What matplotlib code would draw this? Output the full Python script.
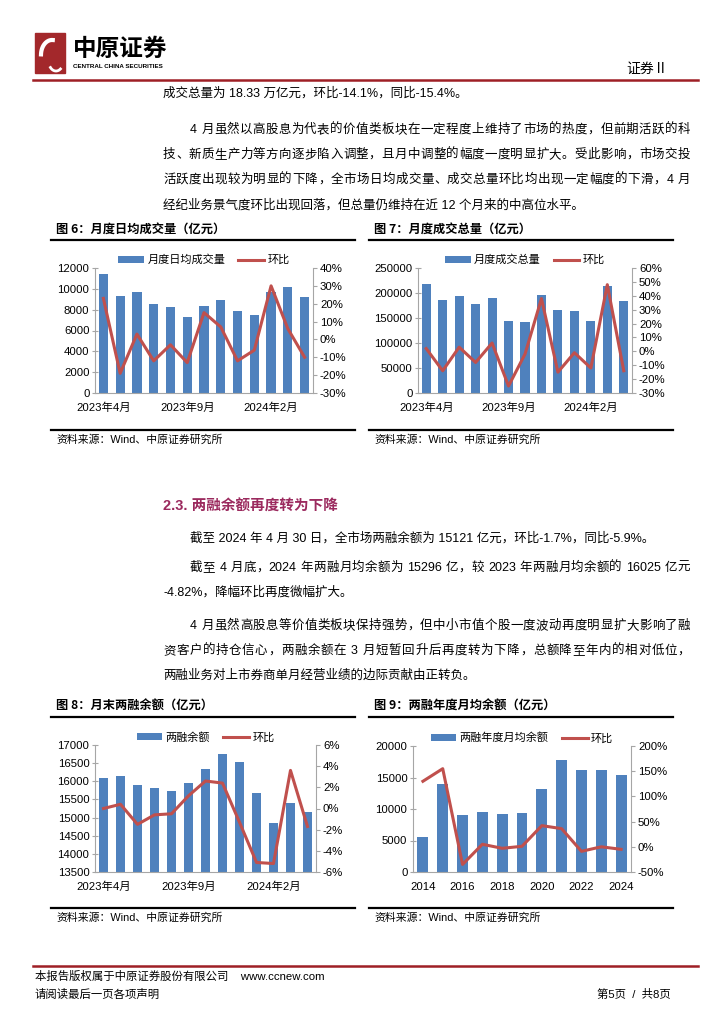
import re
import matplotlib
matplotlib.use('Agg')
import matplotlib.pyplot as plt
from matplotlib.patches import Rectangle, Patch
from matplotlib.lines import Line2D
import numpy as np

plt.rcParams['font.family'] = ['Liberation Sans', 'Noto Sans CJK SC', 'DejaVu Sans']

W, H = 724, 1024

# 图6 月度日均成交量
months = ['2023年4月', '2023年5月', '2023年6月', '2023年7月', '2023年8月', '2023年9月', '2023年10月',
          '2023年11月', '2023年12月', '2024年1月', '2024年2月', '2024年3月', '2024年4月']
daily_vol = [11450, 9350, 9700, 8550, 8300, 7250, 8350, 8900, 7900, 7450, 9650, 10200, 9250]
daily_mom = [23, -19, 3, -12, -3, -13, 15, 7, -12, -6, 30, 6, -10]

# 图7 月度成交总量
total_vol = [218000, 187000, 194000, 179000, 191000, 145000, 142000, 196000, 166000, 164000, 145000, 215000, 184000]
total_mom = [2, -14, 3, -8, 6, -25, -2, 38, -15, -1, -12, 48, -14]

# 图8 月末两融余额
margin_bal = [16100, 16150, 15900, 15820, 15740, 15940, 16350, 16750, 16530, 15680, 14860, 15400, 15140]
margin_mom = [0.0, 0.4, -1.5, -0.6, -0.5, 1.2, 2.6, 2.4, -1.3, -5.1, -5.2, 3.6, -1.7]

# 图9 两融年度月均余额
years = ['2014', '2015', '2016', '2017', '2018', '2019', '2020', '2021', '2022', '2023', '2024']
year_bal = [5500, 13900, 9050, 9550, 9200, 9300, 13150, 17800, 16150, 16150, 15400]
year_mom = [130, 155, -35, 5, -3, 1, 42, 36, -9, 0, -5]

BLUE = '#4F81BD'
RED = '#C0504D'
GRAY = '#A6A6A6'
DARKRED = '#9E1F25'
BODY = 9.0

fig = plt.figure(figsize=(W / 100, H / 100), dpi=100)
renderer = fig.canvas.get_renderer()


def fx(x):
    return x / W


def fy(y):
    return 1 - y / H


def txt(x, y, s, size=BODY, **kw):
    kw.setdefault('va', 'center')
    kw.setdefault('ha', 'left')
    return fig.text(fx(x), fy(y), s, fontsize=size, **kw)


def justify(x0, x1, y, s, size=BODY):
    # 两端对齐：逐字放置，把多余的空白平均分到字间
    toks = re.findall(r'[A-Za-z0-9.%\-]+|\s+|.', s)
    arts, widths = [], []
    for tk in toks:
        t = txt(x0, y, tk, size=size)
        widths.append(t.get_window_extent(renderer).width)
        arts.append(t)
    gap = (x1 - x0 - sum(widths)) / max(len(toks) - 1, 1)
    x = x0
    for t, w in zip(arts, widths):
        t.set_x(fx(x))
        x += w + gap


def hline(x0, x1, y, lw=1.0, color='black'):
    fig.add_artist(Line2D([fx(x0), fx(x1)], [fy(y), fy(y)], color=color, lw=lw,
                          transform=fig.transFigure))


# 页眉
fig.add_artist(Rectangle((fx(35), fy(73)), 30 / W, 40 / H, color='#A3282B', transform=fig.transFigure))
t = np.linspace(0.3, 1.9, 50)
fig.add_artist(Line2D(fx(52) + 11 / W * np.cos(t + 1.2), fy(55) + 15 / H * np.sin(t + 1.2),
                      color='white', lw=3, transform=fig.transFigure))
fig.add_artist(Line2D(fx(56) + 7 / W * np.cos(t + 3.5), fy(62) + 9 / H * np.sin(t + 3.5),
                      color='white', lw=2, transform=fig.transFigure))
txt(73, 49, '中原证券', size=17, weight='bold', family=['Noto Sans CJK SC'])
txt(73, 67, 'CENTRAL CHINA SECURITIES', size=4.5, weight='bold')
txt(626, 69, '证券Ⅱ', size=10, family=['Noto Sans CJK SC', 'DejaVu Sans'])
hline(33, 698, 80, lw=1.8, color=DARKRED)

# 正文
txt(163, 93, '成交总量为 18.33 万亿元，环比-14.1%，同比-15.4%。')
para1 = ['4 月虽然以高股息为代表的价值类板块在一定程度上维持了市场的热度，但前期活跃的科',
         '技、新质生产力等方向逐步陷入调整，且月中调整的幅度一度明显扩大。受此影响，市场交投',
         '活跃度出现较为明显的下降，全市场日均成交量、成交总量环比均出现一定幅度的下滑，4 月',
         '经纪业务景气度环比出现回落，但总量仍维持在近 12 个月来的中高位水平。']
for i, s in enumerate(para1):
    if i < len(para1) - 1:
        justify(190 if i == 0 else 163, 690, 130 + i * 25, s)
    else:
        txt(163, 130 + i * 25, s)

txt(163, 507, '2.3. 两融余额再度转为下降', size=10.5, weight='bold', color='#9B2A5E')
txt(190, 538, '截至 2024 年 4 月 30 日，全市场两融余额为 15121 亿元，环比-1.7%，同比-5.9%。')
justify(190, 690, 568, '截至 4 月底，2024 年两融月均余额为 15296 亿，较 2023 年两融月均余额的 16025 亿元')
txt(163, 592, '-4.82%，降幅环比再度微幅扩大。')
para2 = ['4 月虽然高股息等价值类板块保持强势，但中小市值个股一度波动再度明显扩大影响了融',
         '资客户的持仓信心，两融余额在 3 月短暂回升后再度转为下降，总额降至年内的相对低位，',
         '两融业务对上市券商单月经营业绩的边际贡献由正转负。']
for i, s in enumerate(para2):
    if i < len(para2) - 1:
        justify(190 if i == 0 else 163, 690, 626 + i * 25, s)
    else:
        txt(163, 626 + i * 25, s)

# 页脚
hline(33, 698, 966, lw=1.8, color=DARKRED)
txt(35, 976, '本报告版权属于中原证券股份有限公司    www.ccnew.com', size=8.2)
txt(35, 994, '请阅读最后一页各项声明', size=8.2)
txt(671, 994, '第5页  /  共8页', size=8.2, ha='right')


def draw_chart(box, frame, title, labels, bars, pct, bar_name, ylim, yticks, rlim, rticks, rfmt, tick_idx):
    left, top, right, bottom = box
    fl, fr, ftop, fbot = frame
    txt(fl + 5, ftop - 11, title, size=8.8, weight='bold', family=['Noto Sans CJK SC'])
    hline(fl, fr, ftop, lw=1.6)
    hline(fl, fr, fbot, lw=1.6)
    txt(fl + 5, fbot + 10, '资料来源：Wind、中原证券研究所', size=7.8)

    ax = fig.add_axes([fx(left), fy(bottom), (right - left) / W, (bottom - top) / H])
    x = np.arange(len(bars))
    ax.bar(x, bars, width=0.55, color=BLUE, zorder=2)
    ax.set_xlim(-0.5, len(bars) - 0.5)
    ax.set_ylim(*ylim)
    ax.set_yticks(yticks)
    ax.set_yticklabels([str(v) for v in yticks])
    ax.set_xticks([x[i] for i in tick_idx])
    ax.set_xticklabels([labels[i] for i in tick_idx])
    ax.tick_params(axis='x', length=0, labelsize=8.2, pad=7)
    ax.tick_params(axis='y', direction='inout', length=4, color=GRAY, labelsize=8.2, pad=2)
    for s in ['top', 'right']:
        ax.spines[s].set_visible(False)
    for s in ['left', 'bottom']:
        ax.spines[s].set_color(GRAY)

    ax2 = ax.twinx()
    ax2.plot(x, pct, color=RED, lw=2.2, zorder=3)
    ax2.set_ylim(*rlim)
    ax2.set_yticks(rticks)
    ax2.set_yticklabels([rfmt % v for v in rticks])
    ax2.tick_params(axis='y', direction='out', length=3, color=GRAY, labelsize=8.2, pad=2)
    for s in ['top', 'left', 'bottom']:
        ax2.spines[s].set_visible(False)
    ax2.spines['right'].set_color(GRAY)

    handles = [Patch(facecolor=BLUE, edgecolor='none'), Line2D([], [], color=RED, lw=2.2)]
    fig.legend(handles, [bar_name, '环比'], loc='center', bbox_to_anchor=(fx((left + right) / 2), fy(top - 8)),
               ncol=2, frameon=False, fontsize=8, handlelength=2.3, handleheight=0.6,
               columnspacing=1.2, handletextpad=0.3, borderpad=0)


idx_m = [0, 5, 10]
draw_chart((95, 268, 313, 393), (51, 355, 240, 430), '图 6：月度日均成交量（亿元）', months, daily_vol, daily_mom,
           '月度日均成交量', (0, 12000), list(range(0, 12001, 2000)), (-30, 40), list(range(-30, 41, 10)), '%d%%', idx_m)
draw_chart((418, 268, 632, 393), (369, 673, 240, 430), '图 7：月度成交总量（亿元）', months, total_vol, total_mom,
           '月度成交总量', (0, 250000), list(range(0, 250001, 50000)), (-30, 60), list(range(-30, 61, 10)), '%d%%', idx_m)
draw_chart((95, 745, 316, 872), (51, 355, 717, 908), '图 8：月末两融余额（亿元）', months, margin_bal, margin_mom,
           '两融余额', (13500, 17000), list(range(13500, 17001, 500)), (-6, 6), list(range(-6, 7, 2)), '%d%%', idx_m)
draw_chart((413, 746, 631, 872), (369, 673, 717, 908), '图 9：两融年度月均余额（亿元）', years, year_bal, year_mom,
           '两融年度月均余额', (0, 20000), list(range(0, 20001, 5000)), (-50, 200), list(range(-50, 201, 50)), '%d%%',
           list(range(0, 11, 2)))

fig.savefig('out.png', dpi=100)
